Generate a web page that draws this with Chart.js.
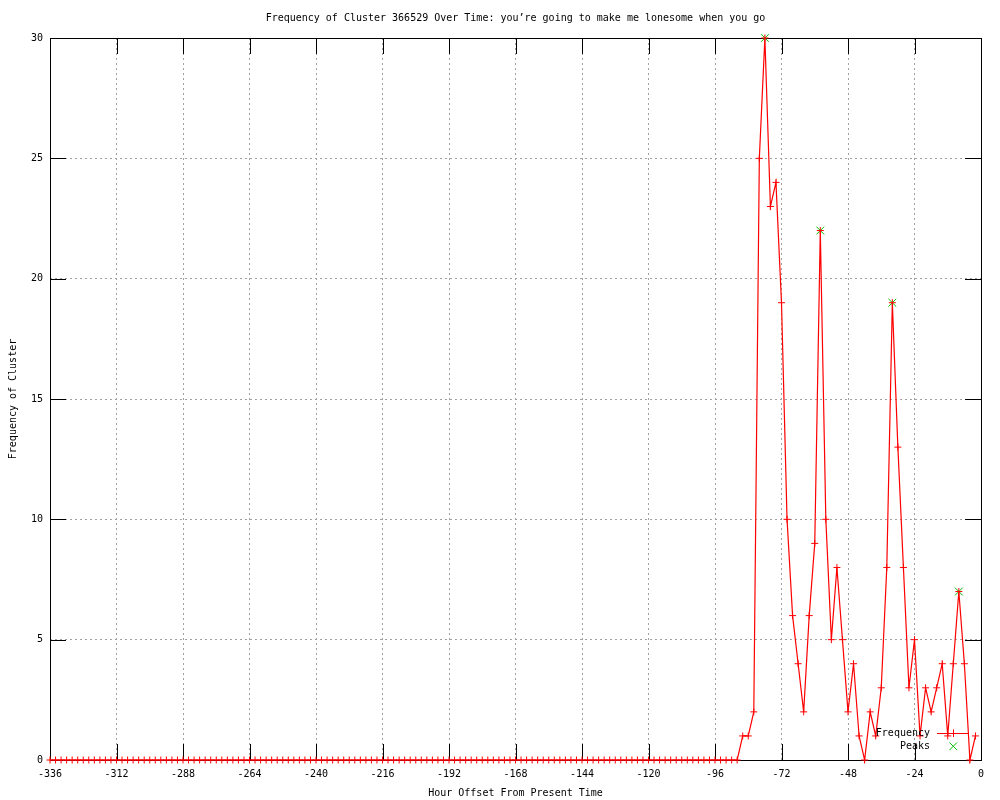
<!DOCTYPE html>
<html>
<head>
<meta charset="utf-8">
<title>Frequency of Cluster 366529</title>
<script src="https://cdn.jsdelivr.net/npm/chart.js@4.4.1/dist/chart.umd.min.js"></script>
<style>
  body { margin: 0; background: #fff; }
  canvas { display: block; }
</style>
</head>
<body>
<canvas id="freqChart" width="1000" height="800"></canvas>
<script>
// saat ofsetleri (2 saatlik adım)
const hours = [
  -336, -334, -332, -330, -328, -326, -324, -322, -320, -318, -316, -314,
  -312, -310, -308, -306, -304, -302, -300, -298, -296, -294, -292, -290,
  -288, -286, -284, -282, -280, -278, -276, -274, -272, -270, -268, -266,
  -264, -262, -260, -258, -256, -254, -252, -250, -248, -246, -244, -242,
  -240, -238, -236, -234, -232, -230, -228, -226, -224, -222, -220, -218,
  -216, -214, -212, -210, -208, -206, -204, -202, -200, -198, -196, -194,
  -192, -190, -188, -186, -184, -182, -180, -178, -176, -174, -172, -170,
  -168, -166, -164, -162, -160, -158, -156, -154, -152, -150, -148, -146,
  -144, -142, -140, -138, -136, -134, -132, -130, -128, -126, -124, -122,
  -120, -118, -116, -114, -112, -110, -108, -106, -104, -102, -100, -98,
  -96, -94, -92, -90, -88, -86, -84, -82, -80, -78, -76, -74,
  -72, -70, -68, -66, -64, -62, -60, -58, -56, -54, -52, -50,
  -48, -46, -44, -42, -40, -38, -36, -34, -32, -30, -28, -26,
  -24, -22, -20, -18, -16, -14, -12, -10, -8, -6, -4, -2
];

const counts = [
  0, 0, 0, 0, 0, 0, 0, 0, 0, 0, 0, 0,
  0, 0, 0, 0, 0, 0, 0, 0, 0, 0, 0, 0,
  0, 0, 0, 0, 0, 0, 0, 0, 0, 0, 0, 0,
  0, 0, 0, 0, 0, 0, 0, 0, 0, 0, 0, 0,
  0, 0, 0, 0, 0, 0, 0, 0, 0, 0, 0, 0,
  0, 0, 0, 0, 0, 0, 0, 0, 0, 0, 0, 0,
  0, 0, 0, 0, 0, 0, 0, 0, 0, 0, 0, 0,
  0, 0, 0, 0, 0, 0, 0, 0, 0, 0, 0, 0,
  0, 0, 0, 0, 0, 0, 0, 0, 0, 0, 0, 0,
  0, 0, 0, 0, 0, 0, 0, 0, 0, 0, 0, 0,
  0, 0, 0, 0, 0, 1, 1, 2, 25, 30, 23, 24,
  19, 10, 6, 4, 2, 6, 9, 22, 10, 5, 8, 5,
  2, 4, 1, 0, 2, 1, 3, 8, 19, 13, 8, 3,
  5, 1, 3, 2, 3, 4, 1, 4, 7, 4, 0, 1
];

const peakHours = [-78, -58, -32, -8];
const peakCounts = [30, 22, 19, 7];

const xTicks = [-336, -312, -288, -264, -240, -216, -192, -168, -144, -120, -96, -72, -48, -24, 0];
const yTicks = [0, 5, 10, 15, 20, 25, 30];

const FONT = "'DejaVu Sans Mono', 'Liberation Mono', monospace";
const RED = '#ff0000';
const GREEN = '#00c000';

Chart.defaults.font.family = FONT;
Chart.defaults.font.size = 10;
Chart.defaults.color = '#000';

// çerçeve ve içe doğru tik çizgileri (gnuplot tarzı)
const frameTicks = {
  id: 'frameTicks',
  beforeDatasetsDraw(chart) {
    const { ctx, chartArea: a, scales } = chart;
    const len = 16;
    ctx.save();
    ctx.strokeStyle = '#000';
    ctx.lineWidth = 1;
    ctx.beginPath();
    xTicks.forEach(v => {
      const px = Math.round(scales.x.getPixelForValue(v)) + 0.5;
      ctx.moveTo(px, a.bottom);
      ctx.lineTo(px, a.bottom - len);
      ctx.moveTo(px, a.top);
      ctx.lineTo(px, a.top + len);
    });
    yTicks.forEach(v => {
      const py = Math.round(scales.y.getPixelForValue(v)) + 0.5;
      ctx.moveTo(a.left, py);
      ctx.lineTo(a.left + len, py);
      ctx.moveTo(a.right, py);
      ctx.lineTo(a.right - len, py);
    });
    ctx.stroke();
    ctx.strokeRect(Math.round(a.left) + 0.5, Math.round(a.top) + 0.5,
      Math.round(a.right - a.left), Math.round(a.bottom - a.top));
    ctx.restore();
  }
};

// sağ altta anahtar (legend)
const keyBox = {
  id: 'keyBox',
  afterDatasetsDraw(chart) {
    const { ctx, chartArea: a } = chart;
    const sets = chart.data.datasets;
    const textX = a.right - 51;
    const x1 = a.right - 44, x2 = a.right - 12, mx = a.right - 28;
    const rows = [a.bottom - 27, a.bottom - 14];
    ctx.save();
    ctx.font = '10px ' + FONT;
    ctx.textAlign = 'right';
    ctx.textBaseline = 'middle';
    ctx.fillStyle = '#000';
    ctx.fillText(sets[0].label, textX, rows[0]);
    ctx.fillText(sets[1].label, textX, rows[1]);
    ctx.lineWidth = 1;
    ctx.strokeStyle = RED;
    ctx.beginPath();
    ctx.moveTo(x1, rows[0] + 0.5);
    ctx.lineTo(x2, rows[0] + 0.5);
    ctx.moveTo(mx + 0.5, rows[0] - 3.5);
    ctx.lineTo(mx + 0.5, rows[0] + 4);
    ctx.stroke();
    ctx.strokeStyle = GREEN;
    ctx.beginPath();
    ctx.moveTo(mx - 3.5, rows[1] - 3.5);
    ctx.lineTo(mx + 4, rows[1] + 4);
    ctx.moveTo(mx + 4, rows[1] - 3.5);
    ctx.lineTo(mx - 3.5, rows[1] + 4);
    ctx.stroke();
    ctx.restore();
  }
};

new Chart(document.getElementById('freqChart'), {
  type: 'line',
  data: {
    datasets: [
      {
        label: 'Frequency',
        data: hours.map((h, i) => ({ x: h, y: counts[i] })),
        borderColor: RED,
        backgroundColor: RED,
        borderWidth: 1.2,
        tension: 0,
        pointStyle: 'cross',
        pointRadius: 3.5,
        pointBorderColor: RED,
        pointBorderWidth: 1,
        clip: false,
        order: 1
      },
      {
        label: 'Peaks',
        data: peakHours.map((h, i) => ({ x: h, y: peakCounts[i] })),
        showLine: false,
        borderColor: GREEN,
        backgroundColor: GREEN,
        pointStyle: 'crossRot',
        pointRadius: 5.5,
        pointBorderColor: GREEN,
        pointBorderWidth: 1,
        clip: false,
        order: 2
      }
    ]
  },
  options: {
    responsive: false,
    animation: false,
    events: [],
    layout: { padding: { left: 0, right: 19, top: 0, bottom: 0 } },
    plugins: {
      legend: { display: false },
      tooltip: { enabled: false },
      title: {
        display: true,
        text: "Frequency of Cluster 366529 Over Time: you\u2019re going to make me lonesome when you go",
        fullSize: false,
        font: { size: 10, weight: 'normal', family: FONT },
        color: '#000',
        padding: { top: 12, bottom: 14 }
      }
    },
    scales: {
      x: {
        type: 'linear',
        min: -336,
        max: 0,
        afterBuildTicks: scale => { scale.ticks = xTicks.map(v => ({ value: v })); },
        afterFit: scale => { scale.height = 40; },
        ticks: { padding: 8, color: '#000', maxRotation: 0, autoSkip: false },
        grid: { color: '#a0a0a0', lineWidth: 1, drawTicks: false },
        border: { display: false, dash: [2, 3] },
        title: {
          display: true,
          text: 'Hour Offset From Present Time',
          color: '#000',
          padding: { top: 4, bottom: 1 }
        }
      },
      y: {
        min: 0,
        max: 30,
        afterBuildTicks: scale => { scale.ticks = yTicks.map(v => ({ value: v })); },
        afterFit: scale => { scale.width = 50; },
        ticks: { padding: 7, color: '#000' },
        grid: { color: '#a0a0a0', lineWidth: 1, drawTicks: false },
        border: { display: false, dash: [2, 3] },
        title: {
          display: true,
          text: 'Frequency of Cluster',
          color: '#000',
          padding: { top: 7, bottom: 0 }
        }
      }
    }
  },
  plugins: [frameTicks, keyBox]
});
</script>
</body>
</html>
